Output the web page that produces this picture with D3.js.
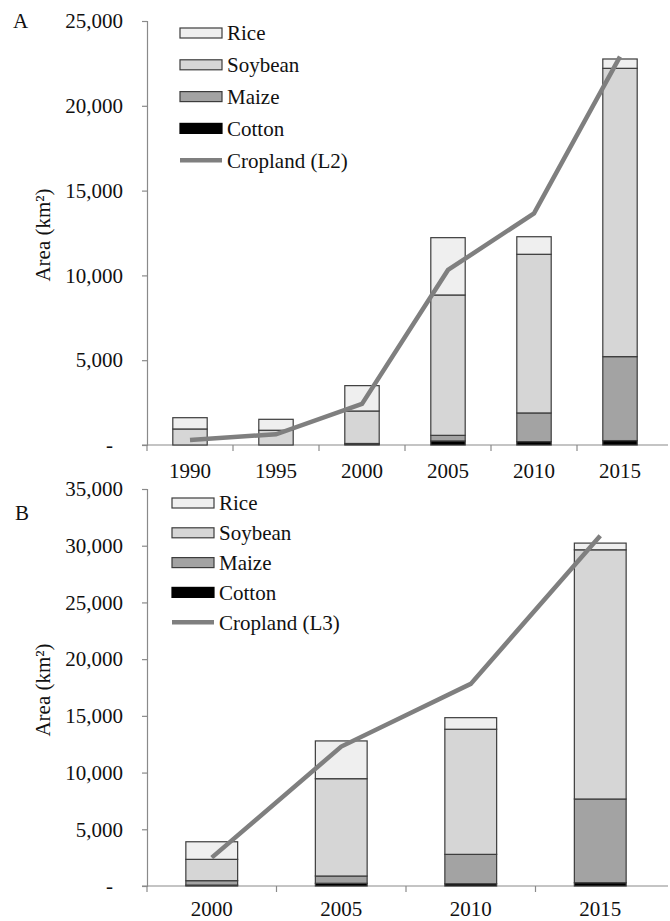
<!DOCTYPE html>
<html>
<head>
<meta charset="utf-8">
<script src="https://cdn.jsdelivr.net/npm/d3@7"></script>
<style>
  html, body { margin: 0; padding: 0; background: #fff; }
  svg { display: block; }
  svg text { font-family: "Liberation Serif", "Times New Roman", "DejaVu Serif", serif !important; fill: #111; }
</style>
</head>
<body>
<svg id="chart" width="670" height="921"></svg>
<script>
// Crop areas (km²) stacked bottom-to-top: cotton, maize, soybean, rice
const cropKeys = ["cotton", "maize", "soybean", "rice"];
const cropNames = { rice: "Rice", soybean: "Soybean", maize: "Maize", cotton: "Cotton" };
const cropColors = { rice: "#efefef", soybean: "#d6d6d6", maize: "#a3a3a3", cotton: "#000000" };

// Panel A
const yearsA = ["1990", "1995", "2000", "2005", "2010", "2015"];
const riceA = [665, 645, 1495, 3380, 1035, 550];
const soybeanA = [945, 870, 1915, 8275, 9355, 17000];
const maizeA = [0, 0, 30, 330, 1690, 4950];
const cottonA = [0, 0, 60, 240, 200, 260];
const croplandA = [300, 630, 2420, 10320, 13660, 22900];
const ticksA = [0, 5000, 10000, 15000, 20000, 25000];

// Panel B
const yearsB = ["2000", "2005", "2010", "2015"];
const riceB = [1550, 3330, 1020, 590];
const soybeanB = [1880, 8580, 11030, 21970];
const maizeB = [390, 640, 2590, 7380];
const cottonB = [80, 240, 200, 290];
const croplandB = [2500, 12290, 17820, 30870];
const ticksB = [0, 5000, 10000, 15000, 20000, 25000, 30000, 35000];

const FONT = "'Liberation Serif', 'Times New Roman', 'DejaVu Serif', serif";
const svg = d3.select("#chart");
const fmt = d3.format(",");

function panel(cfg) {
  const rows = cfg.years.map((yr, i) => ({
    year: yr, rice: cfg.rice[i], soybean: cfg.soybean[i], maize: cfg.maize[i], cotton: cfg.cotton[i], cropland: cfg.cropland[i]
  }));
  const x = d3.scaleBand().domain(cfg.years).range([cfg.x0, cfg.x1]).paddingInner(0).paddingOuter(0);
  const y = d3.scaleLinear().domain([0, cfg.yMax]).range([cfg.yBottom, cfg.yTop]);
  const g = svg.append("g");

  // y axis
  const yAxis = d3.axisLeft(y).tickValues(cfg.ticks).tickSize(5).tickPadding(19)
    .tickFormat(d => d === 0 ? "-" : fmt(d));
  const ya = g.append("g").attr("transform", `translate(${cfg.x0},0)`).call(yAxis)
    .attr("font-family", FONT).attr("font-size", 21);
  ya.select(".domain").attr("stroke", "#8a8a8a").attr("stroke-width", 1.2);
  ya.selectAll(".tick line").attr("stroke", "#8a8a8a").attr("stroke-width", 1.2);
  ya.selectAll(".tick text").attr("fill", "#111");
  ya.selectAll(".tick text").filter(d => d === 0).attr("dx", -10);

  // x axis: line with ticks at category boundaries
  const xAxis = d3.axisBottom(x).tickSize(0).tickPadding(cfg.xPad);
  const xa = g.append("g").attr("transform", `translate(0,${cfg.yBottom})`).call(xAxis)
    .attr("font-family", FONT).attr("font-size", 21);
  xa.select(".domain").remove();
  xa.selectAll(".tick text").attr("fill", "#111");
  g.append("line").attr("x1", cfg.x0 - 5).attr("x2", 668)
    .attr("y1", cfg.yBottom).attr("y2", cfg.yBottom).attr("stroke", "#8a8a8a").attr("stroke-width", 1.2);
  const bounds = cfg.years.map(d => x(d));
  g.selectAll(".xb").data(bounds).join("line")
    .attr("x1", d => d).attr("x2", d => d)
    .attr("y1", cfg.yBottom).attr("y2", cfg.yBottom + 6)
    .attr("stroke", "#8a8a8a").attr("stroke-width", 1.2);

  // stacked bars
  const stack = d3.stack().keys(cropKeys)(rows);
  const bw = x.bandwidth() * 0.4;
  stack.forEach(layer => {
    g.append("g").selectAll("rect").data(layer).join("rect")
      .attr("x", d => x(d.data.year) + x.bandwidth() / 2 - bw / 2)
      .attr("width", bw)
      .attr("y", d => y(d[1]))
      .attr("height", d => Math.max(0, y(d[0]) - y(d[1])))
      .attr("fill", cropColors[layer.key])
      .attr("stroke", d => (d[1] - d[0]) > 0 ? "#3c3c3c" : "none")
      .attr("stroke-width", 1.2);
  });

  // cropland line
  const line = d3.line().x(d => x(d.year) + x.bandwidth() / 2).y(d => y(d.cropland));
  g.append("path").datum(rows).attr("d", line)
    .attr("fill", "none").attr("stroke", "#7f7f7f").attr("stroke-width", 4.5)
    .attr("stroke-linejoin", "miter");

  // legend
  const legendKeys = ["rice", "soybean", "maize", "cotton"];
  legendKeys.forEach((k, i) => {
    const cy = cfg.legY + i * cfg.legStep;
    g.append("rect").attr("x", cfg.legX).attr("y", cy - 5).attr("width", 42).attr("height", 10)
      .attr("fill", cropColors[k]).attr("stroke", k === "cotton" ? "#000" : "#3c3c3c").attr("stroke-width", 1.2);
    g.append("text").attr("x", cfg.legX + 47).attr("y", cy).attr("dy", "0.35em")
      .attr("font-family", FONT).attr("font-size", 21).text(cropNames[k]);
  });
  const ly = cfg.legY + 4 * cfg.legStep;
  g.append("line").attr("x1", cfg.legX).attr("x2", cfg.legX + 42).attr("y1", ly).attr("y2", ly)
    .attr("stroke", "#7f7f7f").attr("stroke-width", 4.5);
  g.append("text").attr("x", cfg.legX + 47).attr("y", ly).attr("dy", "0.35em")
    .attr("font-family", FONT).attr("font-size", 21).text(cfg.lineName);

  // axis title and panel letter
  g.append("text").attr("transform", `translate(50,${cfg.titleY}) rotate(-90)`)
    .attr("text-anchor", "middle").attr("font-family", FONT).attr("font-size", 21).text("Area (km²)");
  g.append("text").attr("x", cfg.letterX).attr("y", cfg.letterY).attr("dy", "0.35em")
    .attr("font-family", FONT).attr("font-size", 21).text(cfg.letter);
}

panel({
  years: yearsA, rice: riceA, soybean: soybeanA, maize: maizeA, cotton: cottonA, cropland: croplandA,
  ticks: ticksA, yMax: 25000, x0: 147, x1: 663, yTop: 21, yBottom: 445, xPad: 18,
  legX: 180, legY: 33, legStep: 31.8, lineName: "Cropland (L2)",
  titleY: 235, letter: "A", letterX: 13, letterY: 21
});

panel({
  years: yearsB, rice: riceB, soybean: soybeanB, maize: maizeB, cotton: cottonB, cropland: croplandB,
  ticks: ticksB, yMax: 35000, x0: 147, x1: 665, yTop: 489, yBottom: 886, xPad: 15,
  legX: 172, legY: 503, legStep: 29.8, lineName: "Cropland (L3)",
  titleY: 690, letter: "B", letterX: 15, letterY: 513
});
</script>
</body>
</html>
